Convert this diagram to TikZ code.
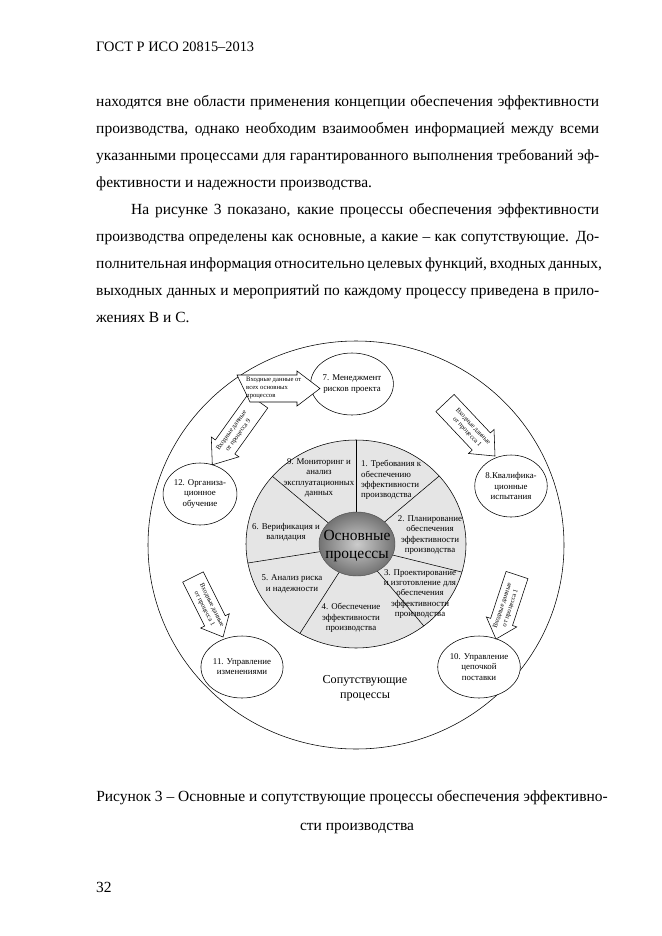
\documentclass[tikz,border=0pt]{standalone}
\usepackage{fontspec}
\setmainfont{Liberation Serif}
\usetikzlibrary{calc,shapes.geometric}
\newlength\pxl
\setlength\pxl{0.3177mm}
\newlength\textw
\setlength\textw{503\pxl}
\newlength\textwi
\setlength\textwi{468\pxl}
\definecolor{piegray}{gray}{0.90}
\definecolor{ballin}{gray}{0.80}
\definecolor{ballout}{gray}{0.45}
\newcommand\jline[1]{\hbox to \textw{#1}}
\newcommand\jlinei[1]{\hbox to \textwi{#1}}
\newcommand\barrow[7]{%
  \begin{scope}[shift={(#1,#2)},rotate=#3]
    \filldraw[fill=white,draw=black,line width=0.5pt]
      (0,-#5) -- ({#4-#7},-#5) -- ({#4-#7},-#6) -- (#4,0) --
      ({#4-#7},#6) -- ({#4-#7},#5) -- (0,#5) -- cycle;
  \end{scope}}
\begin{document}
\begin{tikzpicture}[x=0.3177mm,y=-0.3177mm,
  body/.style={anchor=base west,inner sep=0pt,font=\fontsize{14}{16.8}\selectfont},
  sect/.style={align=center,inner sep=0pt,font=\fontsize{8}{9.3}\selectfont},
  sat/.style={draw,ellipse,line width=0.5pt,fill=white,inner sep=0pt,
    minimum width=66\pxl,minimum height=62\pxl,align=center,
    font=\fontsize{8}{9.2}\selectfont},
  arrtext/.style={align=center,inner sep=0pt,font=\fontsize{6}{7.5}\selectfont}]
\useasboundingbox[fill=white] (0,0) rectangle (661,936);
% header and text
\node[body,font=\fontsize{13}{15}\selectfont] (hdr) at (96,51.5) {ГОСТ Р ИСО 20815–2013};
\node[body] (l1) at (96,106.5) {\jline{находятся вне области применения концепции обеспечения эффективности}};
\node[body] (l2) at (96,133.5) {\jline{производства, однако необходим взаимообмен информацией между всеми}};
\node[body] (l3) at (96,160.5) {\jline{указанными процессами для гарантированного выполнения требований эф-}};
\node[body] (l4) at (96,187.5) {фективности и надежности производства.};
\node[body] (l5) at (131,214.5) {\jlinei{На рисунке 3 показано, какие процессы обеспечения эффективности}};
\node[body] (l6) at (96,241.5) {\jline{производства определены как основные, а какие – как сопутствующие. До-}};
\node[body] (l7) at (96,268.5) {\jline{полнительная информация относительно целевых функций, входных данных,}};
\node[body] (l8) at (96,295.5) {\jline{выходных данных и мероприятий по каждому процессу приведена в прило-}};
\node[body] (l9) at (96,322.5) {жениях В и С.};
% figure
\draw[line width=0.5pt,fill=white] (356,545) ellipse [x radius=208\pxl, y radius=204\pxl];
\fill[piegray] (356,544) ellipse [x radius=110\pxl, y radius=104\pxl];
\begin{scope}
  \clip (356,544) ellipse [x radius=110\pxl, y radius=104\pxl];
  \coordinate (pc) at (356,546);
  \draw[line width=0.5pt] (pc) -- (356,400);
  \draw[line width=0.5pt] (pc) -- (463,456);
  \draw[line width=0.5pt] (pc) -- (498,581);
  \draw[line width=0.5pt] (pc) -- (462,671);
  \draw[line width=0.5pt] (pc) -- (279,666);
  \draw[line width=0.5pt] (pc) -- (216,568);
  \draw[line width=0.5pt] (pc) -- (248,456);
\end{scope}
\draw[line width=0.5pt] (356,544) ellipse [x radius=110\pxl, y radius=104\pxl];
\shade[inner color=ballin,outer color=ballout] (357,544) ellipse [x radius=38\pxl, y radius=32\pxl];
\draw[line width=0.4pt,gray!60!black] (357,544) ellipse [x radius=38\pxl, y radius=32\pxl];
\node[align=center,inner sep=0pt,font=\fontsize{14}{16.5}\selectfont] (core) at (357,546) {Основные\\процессы};
\node[sect] (t9) at (319,478) {9. Мониторинг и\\анализ\\эксплуатационных\\данных};
\node[sect,align=left,anchor=west] (t1) at (361,480) {1. Требования к\\обеспечению\\эффективности\\производства};
\node[sect] (t2) at (430,535) {2. Планирование\\обеспечения\\эффективности\\производства};
\node[sect] (t3) at (420,594) {3. Проектирование\\и изготовление для\\обеспечения\\эффективности\\производства};
\node[sect] (t4) at (351,618) {4. Обеспечение\\эффективности\\производства};
\node[sect] (t5) at (292,584) {5. Анализ риска\\и надежности};
\node[sect] (t6) at (286,532) {6. Верификация и\\валидация};
\node[align=center,inner sep=0pt,font=\fontsize{11}{13.5}\selectfont] (sup) at (365,688) {Сопутствующие\\процессы};
% satellites
\node[sat] (s7) at (352,384) {7. Менеджмент\\рисков проекта};
\node[sat] (s8) at (511,486) {8.Квалифика-\\ционные\\испытания};
\node[sat] (s12) at (200,494) {12. Организа-\\ционное\\обучение};
\node[sat] (s11) at (242,667) {11. Управление\\изменениями};
\node[sat] (s10) at (479,667) {10. Управление\\цепочкой\\поставки};
% block arrows
\barrow{258}{401}{-125.6}{78.5}{12}{17}{22}
\filldraw[fill=white,draw=black,line width=0.5pt]
  (237,375) -- (297,375) -- (297,371) -- (320,388.5) -- (297,406) -- (297,402) -- (250,402) -- cycle;
\barrow{445}{403}{-46.7}{72.9}{12.5}{17.5}{20}
\barrow{193}{577}{-63.4}{67.1}{11.5}{16}{18}
\barrow{517}{575}{-108.2}{67.4}{11.5}{16}{18}
\node[arrtext,align=left,anchor=west] (a7) at (246,388) {Входные данные от\\всех основных\\процессов};
\node[arrtext,rotate=54.4] (a12) at (235,433) {Входные данные\\от процесса 9};
\node[arrtext,rotate=-46.7] (a8) at (470,429.5) {Входные данные\\от процесса 1};
\node[arrtext,rotate=-63.4] (a11) at (208,607) {Входные данные\\от процесса 1};
\node[arrtext,rotate=71.8] (a10) at (506.5,607) {Входные данные\\от процесса 1};
% caption
\node[body,anchor=base] (cap1) at (352,801) {Рисунок 3 – Основные и сопутствующие процессы обеспечения эффективно-};
\node[body,anchor=base] (cap2) at (357,830) {сти производства};
\node[body] (pg) at (96,892) {32};
\end{tikzpicture}
\end{document}
